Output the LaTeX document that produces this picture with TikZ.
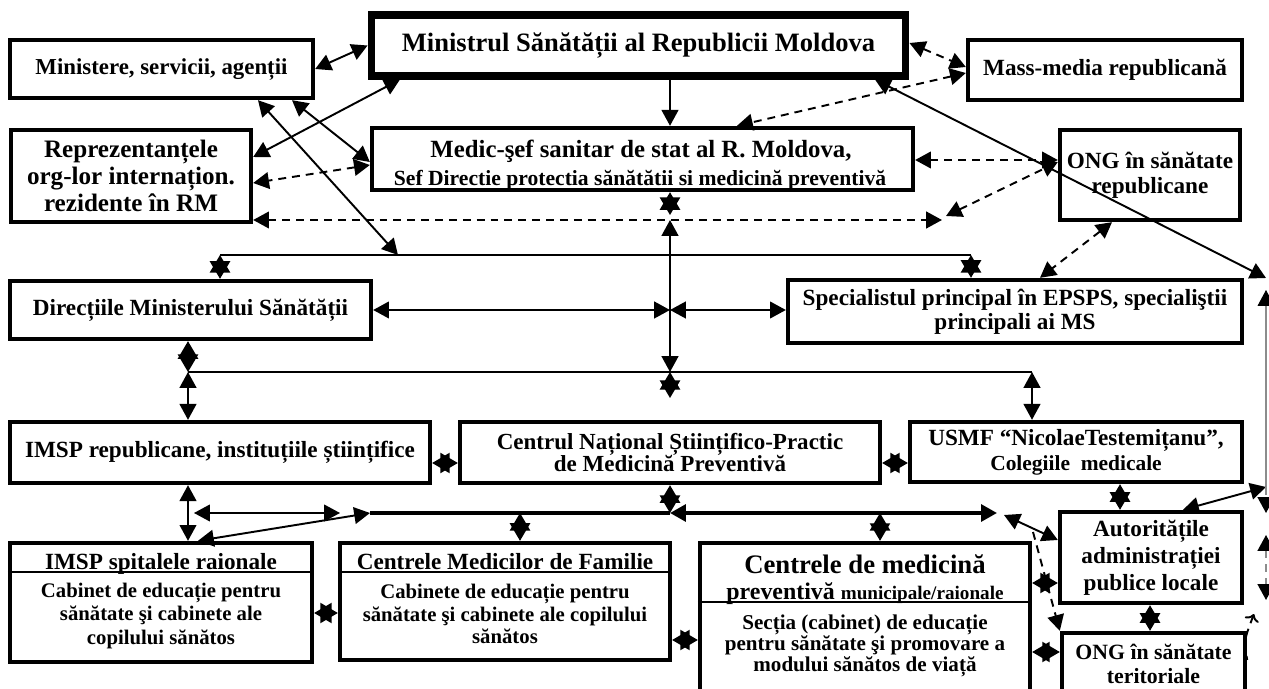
\documentclass[tikz,border=0pt]{standalone}
\usepackage{fontspec}
\setmainfont{Liberation Serif}
\usetikzlibrary{arrows.meta, positioning, calc}
\newcommand{\setfs}[2]{\fontsize{#1}{#2}\selectfont\bfseries}

\tikzset{
  box/.style={draw, line width=2.5pt, align=center, inner sep=0pt, font=\setfs{13.2}{14.2}},
  link/.style={line width=1.1pt, {Triangle[length=9pt,width=9.5pt]}-{Triangle[length=9pt,width=9.5pt]}},
  dlink/.style={link, dash pattern=on 4.5pt off 3.4pt},
  hexarr/.style={line width=1pt, {Triangle[length=10pt,width=11.5pt]}-{Triangle[length=10pt,width=11.5pt]}},
  bus/.style={line width=1.1pt},
  divline/.style={line width=0.9pt},
  rail/.style={line width=0.6pt, draw=black!45},
  headtxt/.style={font=\setfs{13.2}{14}},
  bodytxt/.style={align=center, font=\setfs{11.8}{13.6}},
}

\begin{document}
\begin{tikzpicture}[x=0.02cm, y=-0.02cm]
\path[use as bounding box] (0,0) rectangle (1269,689);
\clip (0,0) rectangle (1269,689);

% top row
\node[box, line width=4pt, minimum width=10.7cm, minimum height=1.22cm, font=\setfs{15.1}{16}] (ms) at (638.5,45.5) {Ministrul Sănătății al Republicii Moldova};
\node[box, minimum width=6.06cm, minimum height=1.16cm, font=\setfs{13}{14}] (min) at (161.5,69) {Ministere, servicii, agenții};
\node[box, minimum width=5.48cm, minimum height=1.2cm] (mm) at (1105,70) {Mass-media republicană};

% second row
\node[box, minimum width=4.8cm, minimum height=1.84cm, font=\setfs{14.3}{15.3}] (rep) at (131,176) {Reprezentanțele\\org-lor internațion.\\rezidente în RM};
\node[anchor=base, font=\setfs{14.1}{15}] (medl1) at (641,158) {Medic-şef sanitar de stat al R. Moldova,};
\node[anchor=base, font=\setfs{12.3}{13}] (medl2) at (640,186) {Sef Directie protectia sănătătii si medicină preventivă};
\node[box, minimum width=10.82cm, minimum height=1.24cm] (med) at (642.5,159) {};
\node[box, minimum width=3.6cm, minimum height=1.8cm] (ongr) at (1150,175) {ONG în sănătate\\republicane};

% third row
\node[box, minimum width=7.22cm, minimum height=1.16cm] (dir) at (190.5,310) {Direcțiile Ministerului Sănătății};
\node[box, minimum width=9.08cm, minimum height=1.26cm, font=\setfs{13.2}{13.6}] (spec) at (1015,311.5) {Specialistul principal în EPSPS, specialiştii\\principali ai MS};

% fourth row
\node[box, minimum width=8.4cm, minimum height=1.22cm] (imspr) at (220,452.5) {IMSP republicane, instituțiile științifice};
\node[box, minimum width=8.4cm, minimum height=1.22cm, font=\setfs{13.1}{12.8}] (cnp) at (670,452.5) {Centrul Național Științifico-Practic\\de Medicină Preventivă};
\node[box, minimum width=6.64cm, minimum height=1.2cm] (usmf) at (1076,452) {USMF “NicolaeTestemițanu”,\\{\fontsize{12.2}{13}\selectfont Colegiile~ medicale}};

% local level
\node[box, minimum width=3.64cm, minimum height=1.82cm, font=\setfs{13.2}{15.3}] (aut) at (1151,557.5) {Autoritățile\\administrației\\publice locale};
\node[box, minimum width=3.66cm, minimum height=1.24cm, font=\setfs{12.4}{13.6}] (ongt) at (1153.5,664) {ONG în sănătate\\teritoriale};

\node[box, minimum width=6.04cm, minimum height=2.38cm] (spit) at (161,602.5) {};
\draw[divline] (spit.west |- 0,572) -- (spit.east |- 0,572);
\node[headtxt, anchor=base] (spith) at (161,569) {IMSP spitalele raionale};
\node[bodytxt] (spitb) at (161,616) {Cabinet de educație pentru\\sănătate şi cabinete ale\\copilului sănătos};

\node[box, minimum width=6.6cm, minimum height=2.34cm] (cmf) at (505,601.5) {};
\draw[divline] (cmf.west |- 0,572) -- (cmf.east |- 0,572);
\node[headtxt, anchor=base] (cmfh) at (505,569) {Centrele Medicilor de Familie};
\node[bodytxt, font=\setfs{11.8}{13}] (cmfb) at (505,614) {Cabinete de educație pentru\\sănătate şi cabinete ale copilului\\sănătos};

\node[box, minimum width=6.6cm, minimum height=3.4cm] (cmp) at (865,628) {};
\node[anchor=base, font=\setfs{15.2}{16}] (cmph) at (865,573) {Centrele de medicină};
\node[anchor=base, font=\setfs{13.6}{14}] (cmpm) at (865,599) {preventivă {\fontsize{10.9}{12}\selectfont municipale/raionale}};
\draw[divline] (cmp.west |- 0,602) -- (cmp.east |- 0,602);
\node[bodytxt, font=\setfs{12}{11.9}] (cmpb) at (865,646) {Secția (cabinet) de educație\\pentru sănătate şi promovare a\\modului sănătos de viață};

% bus lines and free ends
\coordinate (b1w) at (220,255);
\coordinate (b1e) at (971,255);
\coordinate (b2w) at (188,372);
\coordinate (b2e) at (1032,372);
\coordinate (b3w) at (370,513);
\coordinate (b3m) at (670,513);
\coordinate (b3e) at (997,513);
\coordinate (b3x) at (1004,515);
\coordinate (hub) at (670,310);
\coordinate (dashe) at (942,220);
\coordinate (dashf) at (946,216);
\coordinate (dsplit) at (1033,532);
\coordinate (railt) at (1266,278);
\coordinate (railb) at (1266,487);
\coordinate (thinw) at (194,513);
\coordinate (thine) at (340,513);

% ministry links
\draw[link] (min.east) -- (ms.west);
\draw[link] (ms.south -| 400,0) -- (rep.east |- 0,157);
\draw[link] (min.south -| 258,0) -- (b1w -| 398,0);
\draw[link] (min.south -| 292,0) -- (med.west |- 0,162);
\draw[link, {Triangle[length=9pt,width=9.5pt]}-] (med.north -| 670,0) -- (ms.south -| 670,0);
\draw[link] (ms.south -| 875,0) -- (railt);
\draw[rail, -{Triangle[length=9pt,width=9.5pt,color=black]}] (railb) -- (railt |- 0,290);

% dashed links
\draw[dlink] (ms.east |- 0,43) -- (mm.west |- 0,67);
\draw[dlink] (mm.west |- 0,73) -- (med.north -| 737,0);
\draw[dlink] (med.west |- 0,165) -- (rep.east |- 0,183);
\draw[dlink] (rep.east |- dashe) -- (dashe);
\draw[dlink] (dashf) -- (ongr.west |- 0,162);
\draw[dlink] (med.east |- 0,160) -- (ongr.west |- 0,160);
\draw[dlink] (ongr.south -| 1112,0) -- (spec.north -| 1040,0);

% central axis
\draw[hexarr] (med.south -| hub) -- (hub |- 0,215);
\draw[link] (hub |- dashe) -- (hub |- b2w);
\draw[link] (dir.east |- hub) -- (hub);
\draw[link] (hub) -- (spec.west |- hub);

% first bus
\draw[bus] (b1w) -- (b1e);
\draw[hexarr] (b1w) -- (dir.north -| b1w);
\draw[hexarr] (b1e) -- (spec.north -| b1e);

% second bus
\draw[bus] (b2w) -- (b2e);
\draw[hexarr] (dir.south -| b2w) -- (b2w);
\draw[link] (b2w) -- (imspr.north -| b2w);
\draw[hexarr] (hub |- b2w) -- (hub |- 0,398);
\draw[link] (b2e) -- (usmf.north -| b2e);

% fourth row
\draw[hexarr] (imspr.east |- 0,463) -- (cnp.west |- 0,463);
\draw[hexarr] (cnp.east |- 0,463) -- (usmf.west |- 0,463);
\draw[hexarr] (cnp.south) -- (b3m);

% third bus
\draw[bus, line width=2.2pt] (b3w) -- (b3m);
\draw[link, line width=2pt] (b3m) -- (b3e);
\draw[link] (imspr.south -| b2w) -- (spit.north -| b2w);
\draw[link, line width=0.8pt] (thinw) -- (thine);
\draw[link] (spit.north -| 198,0) -- (b3w);
\draw[hexarr] (b3w -| 520,0) -- (cmf.north -| 520,0);
\draw[hexarr] (b3w -| 880,0) -- (cmp.north -| 880,0);
\draw[link] (b3x) -- (aut.west |- 0,540);
\draw[dlink, -{Triangle[length=9pt,width=9.5pt]}] (dsplit) -- (ongt.north west);

% local links
\draw[hexarr] (spit.east |- 0,613) -- (cmf.west |- 0,613);
\draw[hexarr] (cmf.east |- 0,640) -- (cmp.west |- 0,640);
\draw[hexarr] (usmf.south -| 1120,0) -- (aut.north -| 1120,0);
\draw[hexarr] (aut.south -| 1150,0) -- (ongt.north -| 1150,0);
\draw[hexarr] (cmp.east |- 0,583) -- (aut.west |- 0,583);
\draw[hexarr] (cmp.east |- 0,652) -- (ongt.west |- 0,652);
\draw[link] (aut.north -| 1183,0) -- (railb);

% right edge
\draw[dlink, draw=black!45, -{Triangle[length=9pt,width=9.5pt,color=black]}] (railb) -- (railb |- 0,513);
\draw[dlink, draw=black!45, {Triangle[length=9pt,width=9.5pt,color=black]}-{Triangle[length=9pt,width=9.5pt,color=black]}] (railb |- 0,535) -- (railb |- 0,600);
\draw[dlink, <-] (1254,614) .. controls (1244,640) .. (ongt.east |- 0,660);
\end{tikzpicture}
\end{document}
